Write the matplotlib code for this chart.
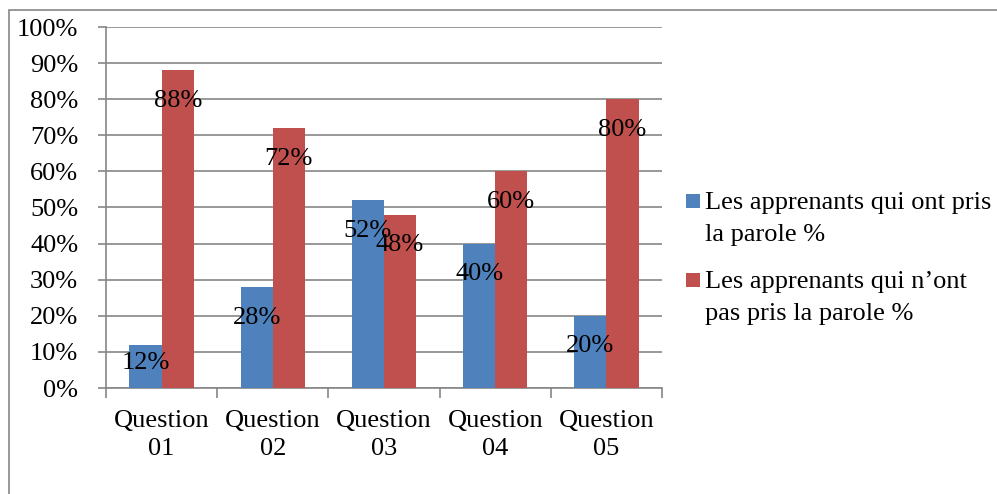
import matplotlib.pyplot as plt
from matplotlib.patches import Rectangle

plt.rcParams["font.family"] = ["Liberation Serif", "DejaVu Serif"]

categories = ["Question\n01", "Question\n02", "Question\n03", "Question\n04", "Question\n05"]
pris = [12, 28, 52, 40, 20]
pas_pris = [88, 72, 48, 60, 80]
series_names = [
    "Les apprenants qui ont pris\nla parole %",
    "Les apprenants qui n\u2019ont\npas pris la parole %",
]
colors = ["#4F81BD", "#C0504D"]
y_ticks = list(range(0, 101, 10))

FS = 19
W, H = 997, 494
fig = plt.figure(figsize=(W / 100, H / 100), dpi=100)

# outer chart border
fig.patches.append(Rectangle((9 / W, -0.1), 1.2, 1 - 10 / H + 0.1, transform=fig.transFigure,
                             fill=False, edgecolor="#868686", linewidth=1.2))

ax = fig.add_axes([106 / W, 106 / H, 556 / W, 361 / H])

bar_w = 0.29
x = list(range(len(categories)))
for k, (vals, col) in enumerate(zip([pris, pas_pris], colors)):
    offs = -bar_w / 2 if k == 0 else bar_w / 2
    xs = [i + offs for i in x]
    ax.bar(xs, vals, width=bar_w, color=col, zorder=3)
    for xi, v in zip(xs, vals):
        ax.text(xi, max(v - 8.5, 7), f"{v}%", ha="center", va="center", fontsize=FS, zorder=4)

ax.set_xlim(-0.5, len(categories) - 0.5)
ax.set_ylim(0, 100)
ax.set_yticks(y_ticks)
ax.set_yticklabels([f"{t}%" for t in y_ticks], fontsize=FS)
ax.yaxis.grid(True, color="#868686", linewidth=1.2, zorder=0)
ax.tick_params(axis="y", length=6, color="#868686", width=1.2, pad=14)

ax.set_xticks(x)
ax.set_xticklabels(categories, fontsize=FS, linespacing=1.35)
ax.set_xticks([i - 0.5 for i in range(len(categories) + 1)], minor=True)
ax.tick_params(axis="x", which="major", length=0, pad=16)
ax.tick_params(axis="x", which="minor", length=7, color="#868686", width=1.2)

for s in ["top", "right"]:
    ax.spines[s].set_visible(False)
for s in ["left", "bottom"]:
    ax.spines[s].set_color("#868686")
    ax.spines[s].set_linewidth(1.2)

# legend drawn by hand so the swatch sits on the first text line (Excel style)
entry_top = [194, 273]
line_gap = 32
for name, col, top in zip(series_names, colors, entry_top):
    fig.patches.append(Rectangle((686 / W, 1 - (top + 14) / H), 14 / W, 14 / H,
                                 transform=fig.transFigure, facecolor=col, edgecolor="none"))
    for j, line in enumerate(name.split("\n")):
        fig.text(705 / W, 1 - (top + 15 + j * line_gap) / H, line, fontsize=FS,
                 ha="left", va="baseline")

fig.savefig("out.png", dpi=100)
